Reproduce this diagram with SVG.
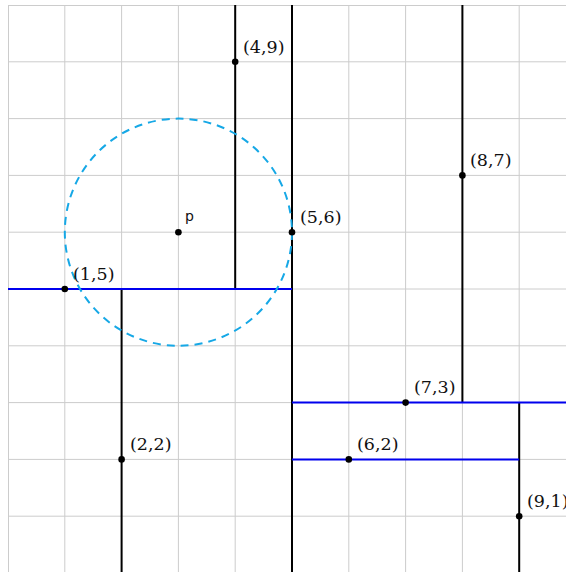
<svg xmlns="http://www.w3.org/2000/svg" width="566" height="572" viewBox="0 0 566 572">
<style>
.grid{stroke:#cccccc;stroke-width:1;fill:none}
.split{stroke:#000;stroke-width:2;fill:none}
.hsplit{stroke:#0000ee;stroke-width:2;fill:none}
.pt{fill:#000}
.lbl{font-family:"DejaVu Serif",serif;font-size:17.5px;fill:#111}
.plbl{font-family:"DejaVu Sans",sans-serif;font-size:14px;fill:#111}
.ball{stroke:#16a8e6;stroke-width:2;fill:none;stroke-dasharray:8,6}
</style>
<rect width="566" height="572" fill="#fff"/>
<g id="grid" class="grid">
<path d="M8.5 5V572M64.8 5V572M121.6 5V572M178.4 5V572M235.2 5V572M292 5V572M348.8 5V572M405.6 5V572M462.4 5V572M519.2 5V572"/>
<path d="M8 5.5H566M8 61.8H566M8 118.6H566M8 175.4H566M8 232.2H566M8 289H566M8 345.8H566M8 402.6H566M8 459.4H566M8 516.2H566"/>
</g>
<g id="connectors">
<line class="split" x1="292" y1="5" x2="292" y2="572"/>
<line class="split" x1="235.2" y1="5" x2="235.2" y2="289"/>
<line class="split" x1="121.6" y1="289" x2="121.6" y2="572"/>
<line class="split" x1="462.4" y1="5" x2="462.4" y2="402.6"/>
<line class="split" x1="519.2" y1="402.6" x2="519.2" y2="572"/>
<line class="hsplit" x1="8" y1="289" x2="292" y2="289"/>
<line class="hsplit" x1="292" y1="402.6" x2="566" y2="402.6"/>
<line class="hsplit" x1="292" y1="459.4" x2="519.2" y2="459.4"/>
</g>
<circle id="query-ball" class="ball" cx="178.4" cy="232.2" r="113.6"/>
<g id="p"><circle class="pt" cx="178.4" cy="232.2" r="3.3"/><text class="plbl" x="185" y="221">p</text></g>
<g id="pt-4-9"><circle class="pt" cx="235.2" cy="61.8" r="3.3"/><text class="lbl" x="243" y="53">(4,9)</text></g>
<g id="pt-1-5"><circle class="pt" cx="64.8" cy="289" r="3.3"/><text class="lbl" x="73" y="280">(1,5)</text></g>
<g id="pt-5-6"><circle class="pt" cx="292" cy="232.2" r="3.3"/><text class="lbl" x="300" y="223">(5,6)</text></g>
<g id="pt-8-7"><circle class="pt" cx="462.4" cy="175.4" r="3.3"/><text class="lbl" x="470" y="166">(8,7)</text></g>
<g id="pt-2-2"><circle class="pt" cx="121.6" cy="459.4" r="3.3"/><text class="lbl" x="130" y="450">(2,2)</text></g>
<g id="pt-7-3"><circle class="pt" cx="405.6" cy="402.6" r="3.3"/><text class="lbl" x="414" y="393">(7,3)</text></g>
<g id="pt-6-2"><circle class="pt" cx="348.8" cy="459.4" r="3.3"/><text class="lbl" x="357" y="450">(6,2)</text></g>
<g id="pt-9-1"><circle class="pt" cx="519.2" cy="516.2" r="3.3"/><text class="lbl" x="527" y="507">(9,1)</text></g>
</svg>
